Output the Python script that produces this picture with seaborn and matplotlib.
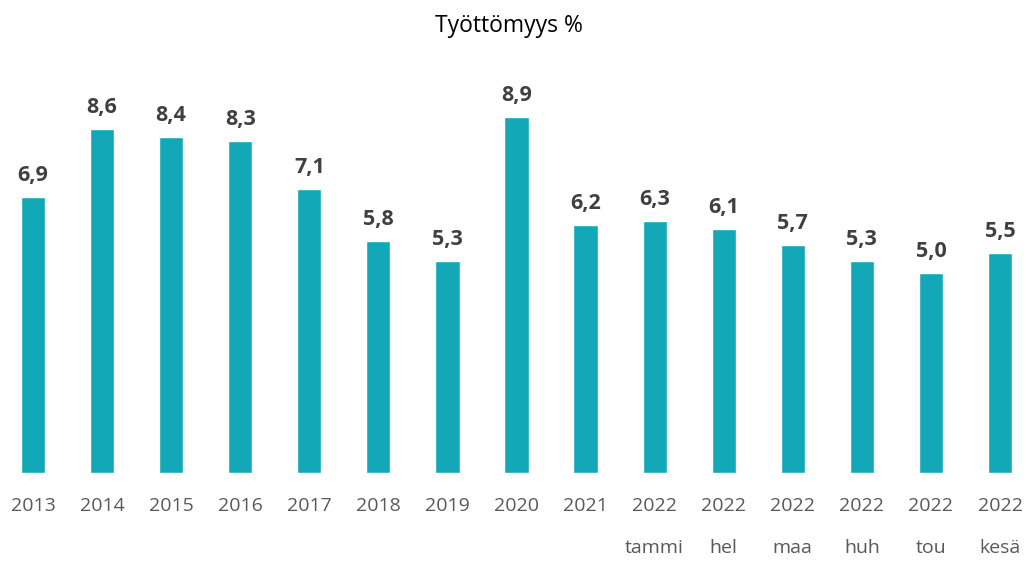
import matplotlib
matplotlib.use("Agg")
import matplotlib.pyplot as plt
import seaborn as sns
import pandas as pd

years = ["2013", "2014", "2015", "2016", "2017", "2018", "2019", "2020", "2021",
         "2022", "2022", "2022", "2022", "2022", "2022"]
months = ["", "", "", "", "", "", "", "", "", "tammi", "hel", "maa", "huh", "tou", "kesä"]
values = [6.9, 8.6, 8.4, 8.3, 7.1, 5.8, 5.3, 8.9, 6.2, 6.3, 6.1, 5.7, 5.3, 5.0, 5.5]
title = "Työttömyys %"

labels = [f"{y}\n{m}" if m else y for y, m in zip(years, months)]
keys = [f"k{i}" for i in range(len(values))]
df = pd.DataFrame({"key": keys, "value": values})

sns.set_theme(style="white")
plt.rcParams["font.family"] = ["Open Sans", "DejaVu Sans"]

W, H = 1027, 563
fig = plt.figure(figsize=(W / 100, H / 100), dpi=100)
ax = fig.add_axes([0, 90 / H, 1, (473 - 60) / H])

color = "#12A8B8"
sns.barplot(data=df, x="key", y="value", color=color, width=0.35,
            saturation=1, ax=ax, order=keys)

spacing = (1000 - 33) / 14
ax.set_xlim(-33 / spacing, 14 + (W - 1000) / spacing)
ax.set_ylim(0, (473 - 60) / 40)

for i, v in enumerate(values):
    ax.annotate(f"{v:.1f}".replace(".", ","), (i, v), xytext=(0, 8),
                textcoords="offset points", ha="center", va="bottom",
                fontsize=15.5, fontweight="bold", color="#404040")

ax.set_xticks(range(len(values)))
ax.set_xticklabels(labels, fontsize=14, color="#595959", linespacing=2.75,
                   va="top")
ax.tick_params(axis="x", length=0, pad=17)
ax.set_yticks([])
ax.set_xlabel("")
ax.set_ylabel("")
for s in ax.spines.values():
    s.set_visible(False)

fig.text(509 / W, 1 - 26 / H, title, ha="center", va="center",
         fontsize=16.5, color="#000000")

fig.savefig("out.png", dpi=100)
